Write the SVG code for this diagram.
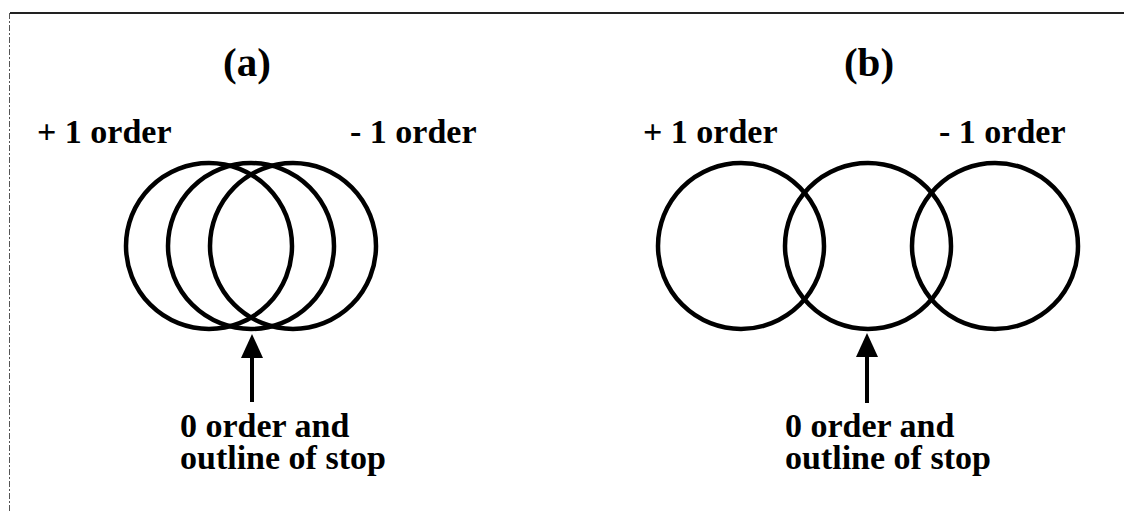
<svg xmlns="http://www.w3.org/2000/svg" width="1124" height="512" viewBox="0 0 1124 512">
<style>
text{font-family:'Liberation Serif',serif;font-size:34px;font-weight:bold;fill:#000}
.h{font-size:41px}
.c{fill:none;stroke:#000;stroke-width:4.5}
.a{stroke:#000;stroke-width:4;fill:none}
</style>
<rect width="1124" height="512" fill="#fff"/>
<line x1="10" y1="13" x2="1124" y2="13" stroke="#222" stroke-width="2"/>
<line x1="9.5" y1="13" x2="9.5" y2="512" stroke="#555" stroke-width="1" stroke-dasharray="6,2,2,2"/>
<g id="panel-a">
<text class="h" x="247" y="76" text-anchor="middle">(a)</text>
<text x="37" y="143">+ 1 order</text>
<text x="350" y="143">- 1 order</text>
<g id="circles-a">
<circle class="c" cx="209" cy="246" r="83"/>
<circle class="c" cx="251" cy="246" r="83"/>
<circle class="c" cx="293" cy="246" r="83"/>
</g>
<text x="180" y="437">0 order and<tspan x="180" y="469">outline of stop</tspan></text>
</g>
<g id="panel-b">
<text class="h" x="869" y="76" text-anchor="middle">(b)</text>
<text x="643" y="143">+ 1 order</text>
<text x="939" y="143">- 1 order</text>
<g id="circles-b">
<circle class="c" cx="741" cy="246" r="83"/>
<circle class="c" cx="868" cy="246" r="83"/>
<circle class="c" cx="995" cy="246" r="83"/>
</g>
<text x="785" y="437">0 order and<tspan x="785" y="469">outline of stop</tspan></text>
</g>
<g id="connectors">
<line class="a" x1="252" y1="402" x2="252" y2="357"/>
<path d="M252,334 L241,358 L263,358 Z" fill="#000"/>
<line class="a" x1="867" y1="403" x2="867" y2="357"/>
<path d="M867,333 L856,357 L878,357 Z" fill="#000"/>
</g>
</svg>
